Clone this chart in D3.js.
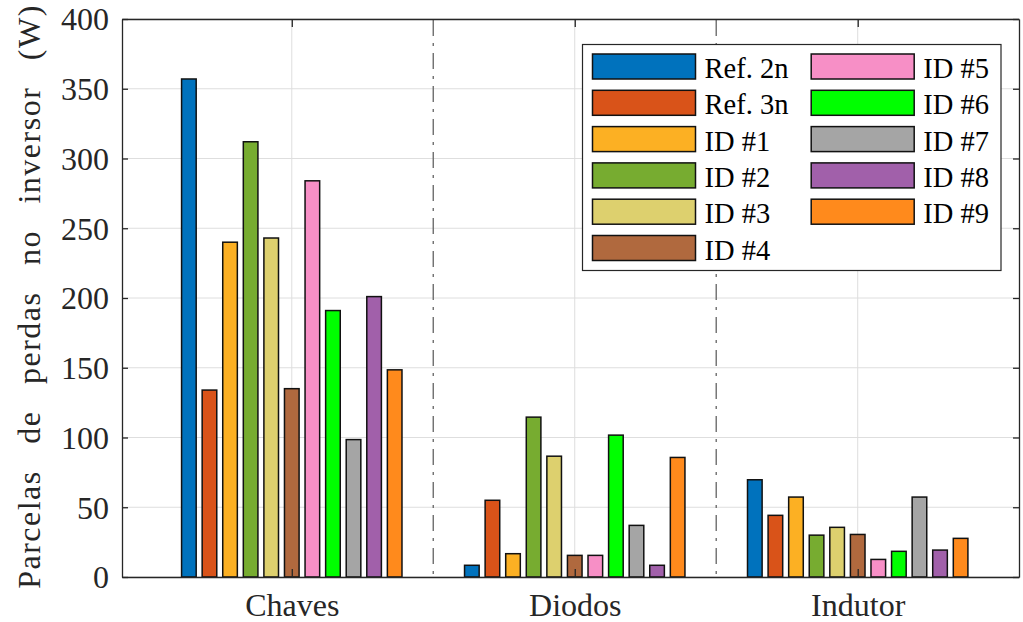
<!DOCTYPE html>
<html>
<head>
<meta charset="utf-8">
<script src="https://cdn.jsdelivr.net/npm/d3@7"></script>
</head>
<body style="margin:0">
<svg id="s" width="1023" height="622"></svg>
<script>
// Loss breakdown per inverter component (W)
const categories = ["Chaves", "Diodos", "Indutor"];
const seriesNames = ["Ref. 2n", "Ref. 3n", "ID #1", "ID #2", "ID #3", "ID #4",
                     "ID #5", "ID #6", "ID #7", "ID #8", "ID #9"];
const seriesColors = ["#0072BD", "#D95319", "#FCB023", "#77AC30", "#DDD06E", "#B0693E",
                      "#F78FC6", "#00FF00", "#A5A5A5", "#A160AA", "#FF8A1C"];
const chaves  = [357, 134, 240, 312, 243, 135, 284, 191, 98.5, 201, 148.5];
const diodos  = [8.4, 55, 16.7, 114.6, 86.6, 15.5, 15.5, 101.7, 37, 8.4, 85.7];
const indutor = [69.7, 44.2, 57.3, 30, 35.6, 30.5, 12.6, 18.4, 57.3, 19.3, 27.7];
const yTicks = [0, 50, 100, 150, 200, 250, 300, 350, 400];
const yLabel = "Parcelas de perdas no inversor (W)";

const valuesByCategory = [chaves, diodos, indutor];

const fam = "Liberation Serif";
const setFont = sel => sel.attr("font-family", fam).style("font-family", `"${fam}"`, "important");

const svg = d3.select("#s");
const plotL = 122, plotR = 1019, plotT = 19, plotB = 577;
const axisColor = "#262626";

const x = d3.scaleLinear().domain([0.4, 3.57]).range([plotL, plotR]);
const y = d3.scaleLinear().domain([0, 400]).range([plotB, plotT]);

const nSeries = seriesNames.length;
const groupWidth = 0.8;
const slot = groupWidth / nSeries;
const barW = x(slot * 0.71) - x(0);

// grid
const grid = svg.append("g");
grid.selectAll("line.h").data(yTicks).join("line")
  .attr("x1", plotL).attr("x2", plotR)
  .attr("y1", d => y(d)).attr("y2", d => y(d))
  .attr("stroke", "#dedede").attr("stroke-width", 1);
grid.selectAll("line.v").data([1, 2, 3]).join("line")
  .attr("x1", d => x(d)).attr("x2", d => x(d))
  .attr("y1", plotT).attr("y2", plotB)
  .attr("stroke", "#dedede").attr("stroke-width", 1);

// group separators
svg.append("g").selectAll("line").data([1.5, 2.5]).join("line")
  .attr("x1", d => x(d)).attr("x2", d => x(d))
  .attr("y1", plotT + 1).attr("y2", plotB)
  .attr("stroke", "#6e6e6e").attr("stroke-width", 1.4)
  .attr("stroke-dasharray", "16,7,3,7");

// bars
const barData = [];
valuesByCategory.forEach((vals, ci) => {
  vals.forEach((v, si) => {
    barData.push({ cat: ci + 1, s: si, v });
  });
});
svg.append("g").selectAll("rect").data(barData).join("rect")
  .attr("x", d => x(d.cat + (d.s - (nSeries - 1) / 2) * slot) - barW / 2)
  .attr("width", barW)
  .attr("y", d => y(d.v))
  .attr("height", d => y(0) - y(d.v))
  .attr("fill", d => seriesColors[d.s])
  .attr("stroke", "#111").attr("stroke-width", 1.5);

// axes (ticks pointing inward)
const fontSize = 32;
const yAxis = svg.append("g").attr("transform", `translate(${plotL},0)`)
  .call(d3.axisLeft(y).tickValues(yTicks).tickSize(-6).tickPadding(13).tickSizeOuter(0));
setFont(yAxis);
yAxis.selectAll("text").attr("font-size", fontSize).attr("fill", axisColor)
  .attr("dy", "0.34em").call(setFont);

svg.append("g").attr("transform", `translate(${plotR},0)`)
  .call(d3.axisRight(y).tickValues(yTicks).tickSize(-6).tickFormat("").tickSizeOuter(0));

const xAxis = svg.append("g").attr("transform", `translate(0,${plotB})`)
  .call(d3.axisBottom(x).tickValues([1, 2, 3]).tickFormat(d => categories[d - 1])
        .tickSize(-8).tickSizeOuter(0));
setFont(xAxis);
xAxis.selectAll("text").attr("font-size", fontSize).attr("fill", axisColor)
  .attr("y", 39).attr("dy", null).call(setFont);

svg.append("g").attr("transform", `translate(0,${plotT})`)
  .call(d3.axisTop(x).tickValues([1, 2, 3]).tickFormat("").tickSize(-8).tickSizeOuter(0));

svg.selectAll(".domain").attr("stroke", axisColor).attr("stroke-width", 1.3);
svg.selectAll(".tick line").attr("stroke", axisColor).attr("stroke-width", 1.3);

// y label
svg.append("text")
  .attr("transform", `translate(40,${(20 + 573) / 2}) rotate(-90)`)
  .attr("text-anchor", "middle")
  .attr("font-size", 32)
  .style("letter-spacing", "1.5px")
  .style("word-spacing", "17px")
  .attr("fill", axisColor)
  .call(setFont)
  .text(yLabel);

// legend
const legend = svg.append("g");
legend.append("rect")
  .attr("x", 582.5).attr("y", 44.5).attr("width", 418.5).attr("height", 226)
  .attr("fill", "#fff").attr("stroke", axisColor).attr("stroke-width", 1.2);
const rowsPerCol = 6;
const items = legend.selectAll("g.item").data(seriesNames).join("g")
  .attr("transform", (d, i) => {
    const col = Math.floor(i / rowsPerCol), row = i % rowsPerCol;
    return `translate(${592.5 + col * 218.7},${54 + row * 36.3})`;
  });
items.append("rect")
  .attr("width", 103).attr("height", 25)
  .attr("fill", (d, i) => seriesColors[i])
  .attr("stroke", "#111").attr("stroke-width", 1.5);
items.append("text")
  .attr("x", 112).attr("y", 24)
  .attr("font-size", 28.5)
  .attr("fill", "#000")
  .call(setFont)
  .text(d => d);
</script>
</body>
</html>
